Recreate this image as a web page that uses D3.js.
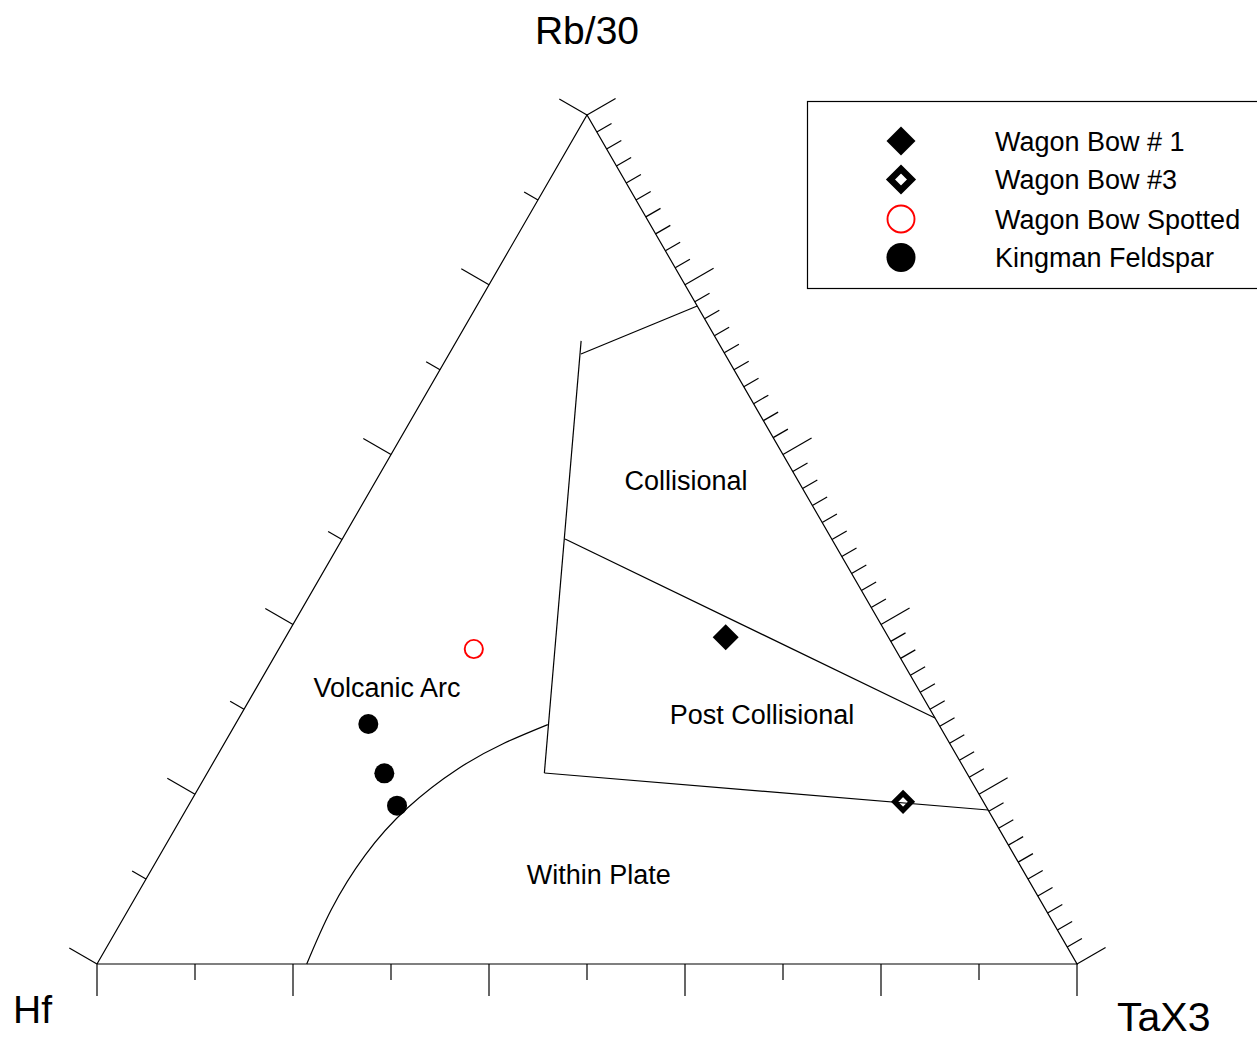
<!DOCTYPE html>
<html>
<head>
<meta charset="utf-8">
<script src="https://cdn.jsdelivr.net/npm/d3@7"></script>
<style>
  html, body { margin: 0; padding: 0; background: #fff; }
  svg { display: block; font-family: "Liberation Sans", Arial, Helvetica, sans-serif; }
</style>
</head>
<body>
<svg id="chart" width="1257" height="1039"></svg>
<script>
// Ternary compositions are given as [Hf, Rb/30, TaX3] fractions.
const apexLabels = ["Hf", "Rb/30", "TaX3"];

// Field boundaries (Harris et al. discrimination fields)
const collisionalTop = [[0.147, 0.7185, 0.1346], [0.0, 0.775, 0.225]];
const centralDivide = [[0.139, 0.734, 0.127], [0.431, 0.225, 0.344]];
const collisionalBase = [[0.272, 0.5006, 0.2273], [0.0, 0.2898, 0.7102]];
const postCollisionalBase = [[0.431, 0.225, 0.344], [0.0, 0.1814, 0.8186]];
const withinPlateArc = [
  [0.786, 0.000, 0.214],
  [0.729, 0.064, 0.207],
  [0.663, 0.128, 0.2095],
  [0.591, 0.184, 0.225],
  [0.516, 0.230, 0.2535],
  [0.456, 0.2595, 0.2846],
  [0.399, 0.282, 0.319]
];

const fieldNames = ["Collisional", "Post Collisional", "Volcanic Arc", "Within Plate"];
const fieldAnchors = [
  [0.114, 0.570, 0.316],
  [0.174, 0.2945, 0.5314],
  [0.541, 0.3263, 0.1328],
  [0.435, 0.106, 0.459]
];

// Samples
const seriesNames = ["Wagon Bow # 1", "Wagon Bow #3", "Wagon Bow Spotted", "Kingman Feldspar"];
const wagonBow1 = [[0.166, 0.385, 0.449]];
const wagonBow3 = [[0.082, 0.191, 0.727]];
const wagonBowSpotted = [[0.430, 0.371, 0.199]];
const kingmanFeldspar = [
  [0.582, 0.2827, 0.1355],
  [0.594, 0.2246, 0.1809],
  [0.601, 0.1865, 0.2129]
];

const svg = d3.select("#chart");

// Linear scales place the equilateral triangle
const xScale = d3.scaleLinear().domain([0, 1]).range([97, 1077]);
const yScale = d3.scaleLinear().domain([0, 1]).range([964, 115]);
const project = p => [xScale(p[2] + p[1] / 2), yScale(p[1])];

const line = d3.line().x(d => project(d)[0]).y(d => project(d)[1]);
const ink = "#000";
const lw = 1.2;

// Triangle outline
const frame = [[1, 0, 0], [0, 0, 1], [0, 1, 0], [1, 0, 0]];
svg.append("path").attr("d", line(frame)).attr("fill", "none")
  .attr("stroke", ink).attr("stroke-width", lw).attr("stroke-linejoin", "miter");

// Ticks
const cos30 = Math.cos(Math.PI / 6), sin30 = 0.5;
const tickG = svg.append("g").attr("stroke", ink).attr("stroke-width", lw);

// Bottom edge (Hf–TaX3): every 0.1, long at every 0.2, pointing down
d3.range(0, 11).forEach(i => {
  const t = i / 10;
  const [px, py] = project([1 - t, 0, t]);
  const len = i % 2 === 0 ? 32 : 16;
  tickG.append("line").attr("x1", px).attr("y1", py).attr("x2", px).attr("y2", py + len);
});

// Left edge (Hf–Rb/30): every 0.1, long at every 0.2, pointing outward-left
d3.range(0, 11).forEach(i => {
  const t = i / 10;
  const [px, py] = project([1 - t, t, 0]);
  const len = i % 2 === 0 ? 32 : 16;
  tickG.append("line").attr("x1", px).attr("y1", py)
    .attr("x2", px - len * cos30).attr("y2", py - len * sin30);
});

// Right edge (Rb/30–TaX3): every 0.02, long at every 0.2, pointing outward-right
d3.range(0, 51).forEach(i => {
  const t = i / 50;
  const [px, py] = project([0, 1 - t, t]);
  const len = i % 10 === 0 ? 33 : 17;
  tickG.append("line").attr("x1", px).attr("y1", py)
    .attr("x2", px + len * cos30).attr("y2", py - len * sin30);
});

// Field boundaries
const bounds = svg.append("g").attr("fill", "none").attr("stroke", ink).attr("stroke-width", lw);
[collisionalTop, centralDivide, collisionalBase, postCollisionalBase].forEach(seg => {
  bounds.append("path").attr("d", line(seg));
});
const arcLine = d3.line().x(d => project(d)[0]).y(d => project(d)[1]).curve(d3.curveNatural);
bounds.append("path").attr("d", arcLine(withinPlateArc));

// Field labels
svg.append("g").selectAll("text").data(fieldNames).join("text")
  .attr("x", (d, i) => project(fieldAnchors[i])[0])
  .attr("y", (d, i) => project(fieldAnchors[i])[1] + 10)
  .attr("text-anchor", "middle")
  .attr("font-size", 27)
  .attr("fill", ink)
  .text(d => d);

// Apex labels
svg.append("text").attr("x", 587).attr("y", 44).attr("text-anchor", "middle")
  .attr("font-size", 39).text(apexLabels[1]);
svg.append("text").attr("x", 13).attr("y", 1023).attr("font-size", 39).text(apexLabels[0]);
svg.append("text").attr("x", 1117).attr("y", 1031).attr("font-size", 41).text(apexLabels[2]);

// Marker drawing helpers (legend = true draws the larger key symbol)
const diamondPath = h => `M0,${-h}L${h},0L0,${h}L${-h},0Z`;
const markers = [
  { data: wagonBow1, draw: (g, legend) => g.append("path")
      .attr("d", diamondPath(legend ? 14.5 : 13)).attr("fill", ink) },
  { data: wagonBow3, draw: (g, legend) => g.append("path")
      .attr("d", diamondPath(legend ? 10.5 : 8.4))
      .attr("fill", "none").attr("stroke", ink).attr("stroke-width", legend ? 6.5 : 5.2) },
  { data: wagonBowSpotted, draw: (g, legend) => g.append("circle").attr("r", legend ? 13.5 : 9.1)
      .attr("fill", "none").attr("stroke", "#ff0000").attr("stroke-width", 1.9) },
  { data: kingmanFeldspar, draw: (g, legend) => g.append("circle")
      .attr("r", legend ? 14.5 : 10).attr("fill", ink) }
];

const pts = svg.append("g");
markers.forEach(m => {
  m.data.forEach(p => {
    const [px, py] = project(p);
    const g = pts.append("g").attr("transform", `translate(${px},${py})`);
    m.draw(g, false);
  });
});

// Legend
const legend = svg.append("g");
legend.append("rect").attr("x", 807.5).attr("y", 101.5).attr("width", 470).attr("height", 187)
  .attr("fill", "#fff").attr("stroke", ink).attr("stroke-width", 1.2);
const legendY = [141, 179.5, 219, 257.5];
seriesNames.forEach((name, i) => {
  const g = legend.append("g").attr("transform", `translate(901,${legendY[i]})`);
  markers[i].draw(g, true);
  legend.append("text").attr("x", 995).attr("y", legendY[i] + 9.5)
    .attr("font-size", 27).attr("fill", ink).text(name);
});
</script>
</body>
</html>
